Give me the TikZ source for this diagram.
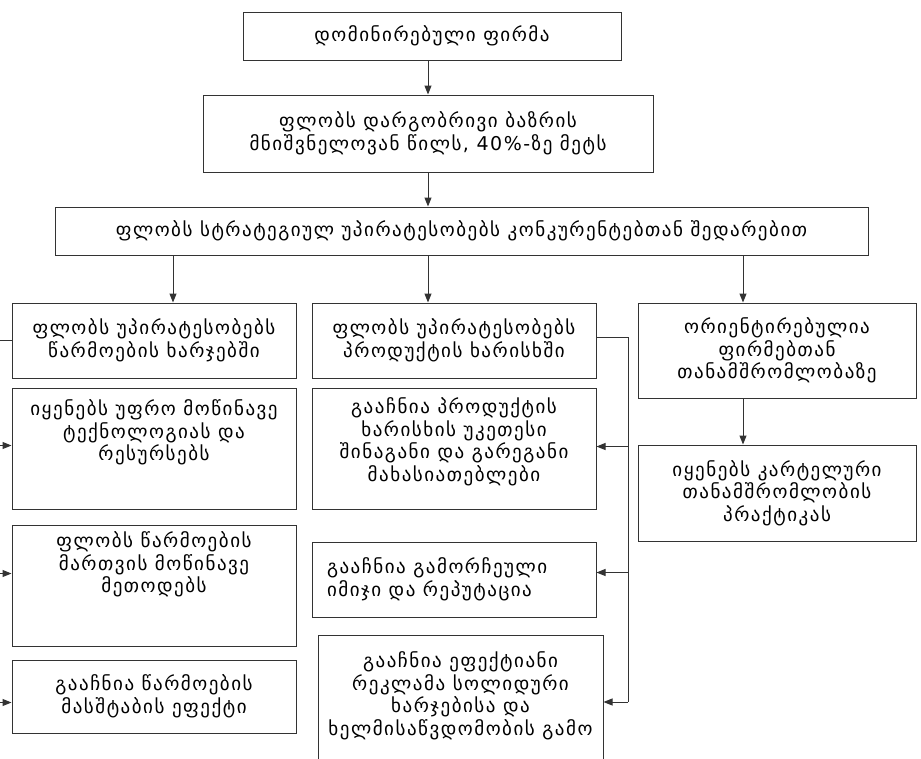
\documentclass[tikz,border=0pt]{standalone}
\usepackage{fontspec}
\setmainfont[LetterSpace=8]{DejaVu Sans}
\usetikzlibrary{arrows.meta,calc}
\newcommand\cbox[6]{%
  \node[box, minimum width={(#4-#2)*1pt}, minimum height={(#5-#3)*1pt}] (#1) at ({(#2+#4)/2},{(#3+#5)/2}) {#6};}
\newcommand\tbox[7]{%
  \node[box, minimum width={(#4-#2)*1pt}, minimum height={(#5-#3)*1pt}] (#1) at ({(#2+#4)/2},{(#3+#5)/2})
  {\parbox[c][\dimexpr #5pt-#3pt\relax][t]{\dimexpr #4pt-#2pt\relax}{\centering\vspace*{#7pt}#6\par}};}
\begin{document}
\begin{tikzpicture}[x=1pt,y=-1pt,
  box/.style={draw=black!80, line width=1pt, rectangle, inner sep=0pt, align=center,
    font=\fontsize{19}{22.5}\selectfont},
  arr/.style={draw=black!80, line width=1pt, -{Triangle[length=9pt,width=7pt]}},
  ln/.style={draw=black!80, line width=1pt}]
\useasboundingbox (0,0) rectangle (921,758);
\fill[white] (0,0) rectangle (921,758);

\cbox{t1}{243}{12}{621}{60}{დომინირებული ფირმა}
\cbox{t2}{203}{95}{653}{172}{ფლობს დარგობრივი ბაზრის\\მნიშვნელოვან წილს, 40\%-ზე მეტს}
\cbox{t3}{55}{207}{868}{255}{ფლობს სტრატეგიულ უპირატესობებს კონკურენტებთან შედარებით}

\cbox{l1}{12}{303}{296}{378}{ფლობს უპირატესობებს\\წარმოების ხარჯებში}
\tbox{l2}{12}{388}{296}{509}{იყენებს უფრო მოწინავე\\ტექნოლოგიას და\\რესურსებს}{12}
\tbox{l3}{12}{525}{296}{646}{ფლობს წარმოების\\მართვის მოწინავე\\მეთოდებს}{7}
\cbox{l4}{12}{660}{296}{733}{გააჩნია წარმოების\\მასშტაბის ეფექტი}

\cbox{m1}{312}{303}{596}{378}{ფლობს უპირატესობებს\\პროდუქტის ხარისხში}
\tbox{m2}{312}{388}{596}{509}{გააჩნია პროდუქტის\\ხარისხის უკეთესი\\შინაგანი და გარეგანი\\მახასიათებლები}{10}
\cbox{m3}{312}{542}{596}{617}{\parbox{254pt}{\raggedright გააჩნია გამორჩეული\\იმიჯი და რეპუტაცია}}
\tbox{m4}{318}{635}{603}{775}{გააჩნია ეფექტიანი\\რეკლამა სოლიდური\\ხარჯებისა და\\ხელმისაწვდომობის გამო}{17}

\cbox{r1}{638}{303}{916}{398}{ორიენტირებულია\\ფირმებთან\\თანამშრომლობაზე}
\cbox{r2}{638}{445}{916}{541}{იყენებს  კარტელური\\თანამშრომლობის\\პრაქტიკას}

\coordinate (xa) at (173,0);
\coordinate (xb) at (428,0);
\coordinate (xc) at (743,0);
\coordinate (lbus) at (-3,0);
\coordinate (mbus) at (628,0);

\draw[arr] (t1.south -| xb) -- (t2.north -| xb);
\draw[arr] (t2.south -| xb) -- (t3.north -| xb);
\draw[arr] (t3.south -| xa) -- (l1.north -| xa);
\draw[arr] (t3.south -| xb) -- (m1.north -| xb);
\draw[arr] (t3.south -| xc) -- (r1.north -| xc);
\draw[arr] (r1.south -| xc) -- (r2.north -| xc);

% left bus (lies just outside the picture)
\draw[ln] (l1.west) -- (l1.west -| lbus) -- ($(l4.west -| lbus)+(0,6)$);
\draw[arr] ($(l2.west -| lbus)+(0,-3)$) -- ($(l2.west)+(0,-3)$);
\draw[arr] ($(l3.west -| lbus)+(0,-12)$) -- ($(l3.west)+(0,-12)$);
\draw[arr] ($(l4.west -| lbus)+(0,6)$) -- ($(l4.west)+(0,6)$);

% middle bus
\coordinate (mb4) at ($(m4.east |- 0,702)$);
\draw[ln] ($(m1.east)+(0,-3)$) -- ($(m1.east -| mbus)+(0,-3)$) -- (mb4 -| mbus);
\draw[arr] ($(m2.east -| mbus)+(0,-2)$) -- ($(m2.east)+(0,-2)$);
\draw[arr] ($(m3.east -| mbus)+(0,-7)$) -- ($(m3.east)+(0,-7)$);
\draw[arr] (mb4 -| mbus) -- (mb4);
\end{tikzpicture}
\end{document}
